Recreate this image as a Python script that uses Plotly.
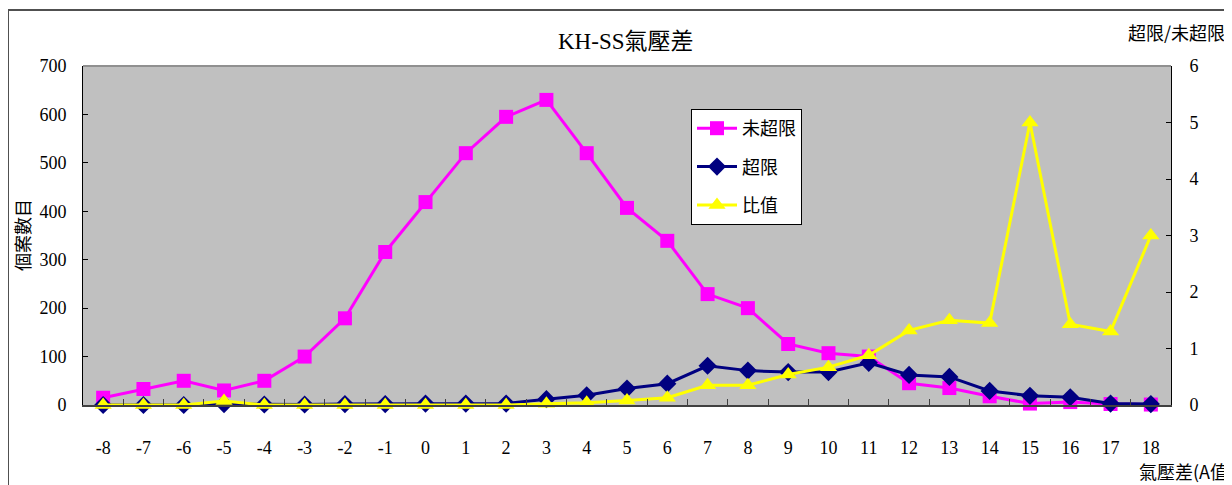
import plotly.graph_objects as go

categories = [str(v) for v in range(-8, 19)]
not_exceed = [15, 33, 50, 30, 50, 100, 179, 316, 419, 520, 595, 630, 520, 407, 339, 229, 200, 126, 107, 100, 45, 35, 18, 3, 6, 2, 1]
exceed = [0, 0, 0, 2, 1, 1, 2, 2, 3, 3, 3, 12, 20, 34, 44, 81, 71, 68, 68, 87, 62, 58, 29, 19, 16, 3, 2]
ratio = [0, 0, 0, 0.07, 0, 0, 0, 0, 0, 0, 0, 0.02, 0.04, 0.08, 0.13, 0.35, 0.35, 0.54, 0.67, 0.88, 1.32, 1.5, 1.45, 5.0, 1.43, 1.3, 3.0]
left_ticks = [0, 100, 200, 300, 400, 500, 600, 700]
right_ticks = [0, 1, 2, 3, 4, 5, 6]

# page body has an 8px margin; work in reference-window pixels and shift
OFF = 8
W, H = 1232 - OFF, 485 - OFF
L, R, T, B = 83, 1171, 66, 405   # plot area in reference pixels

def px(x):
    return (x - L) / (R - L)

def py(y):
    return (B - y) / (B - T)

serif = "Liberation Serif, Noto Sans CJK TC, serif"
cjk = "Noto Sans CJK TC, sans-serif"

fig = go.Figure()
fig.add_trace(go.Scatter(
    x=categories, y=not_exceed, name="未超限", mode="lines+markers",
    line=dict(color="#FF00FF", width=3), marker=dict(symbol="square", size=14, color="#FF00FF"),
    cliponaxis=False, legendgroup="a"))
fig.add_trace(go.Scatter(
    x=categories, y=exceed, name="超限", mode="lines+markers",
    line=dict(color="#000080", width=3), marker=dict(symbol="diamond", size=14, color="#000080"),
    cliponaxis=False, legendgroup="b"))
fig.add_trace(go.Scatter(
    x=categories, y=ratio, name="比值", mode="lines+markers", yaxis="y2",
    line=dict(color="#FFFF00", width=3), marker=dict(symbol="triangle-up", size=15, color="#FFFF00"),
    cliponaxis=False, legendgroup="c"))

fig.update_layout(
    width=W, height=H,
    margin=dict(l=L - OFF, r=1232 - R, t=T - OFF, b=485 - B, pad=0),
    paper_bgcolor="white", plot_bgcolor="#C0C0C0",
    font=dict(family=serif, size=18, color="black"),
    showlegend=True,
    legend=dict(x=px(691), y=py(109), xanchor="left", yanchor="top",
                bgcolor="white", bordercolor="black", borderwidth=1,
                font=dict(family=cjk, size=18), tracegroupgap=12,
                itemwidth=40),
    xaxis=dict(type="category", categoryorder="array", categoryarray=categories,
               range=[-0.5, len(categories) - 0.5], tickson="boundaries",
               ticks="inside", ticklen=6, tickcolor="#404040",
               showline=True, linecolor="#404040", linewidth=2,
               showgrid=False, zeroline=False, ticklabelstandoff=25,
               tickfont=dict(family=serif, size=18)),
    yaxis=dict(range=[0, 700], tickvals=left_ticks, ticks="inside", ticklen=5,
               tickcolor="black", showline=True, linecolor="black", linewidth=1,
               showgrid=False, zeroline=False, ticklabelstandoff=12,
               tickfont=dict(family=serif, size=18)),
    yaxis2=dict(range=[0, 6], tickvals=right_ticks, ticks="inside", ticklen=5,
                tickcolor="black", overlaying="y", side="right",
                showline=True, linecolor="black", linewidth=1,
                showgrid=False, zeroline=False, ticklabelstandoff=14,
                tickfont=dict(family=serif, size=18)),
    shapes=[
        dict(type="rect", xref="paper", yref="paper",
             x0=px(8), x1=px(1245), y0=py(495), y1=py(10),
             line=dict(color="#505050", width=2), fillcolor="rgba(0,0,0,0)", layer="below"),
        dict(type="line", xref="paper", yref="paper", x0=0, x1=1, y0=1, y1=1,
             line=dict(color="#909090", width=2)),
    ],
    annotations=[
        dict(text="KH-SS氣壓差", x=px(625), y=py(42), xref="paper", yref="paper",
             showarrow=False, font=dict(family=serif, size=23), xanchor="center", yanchor="middle"),
        dict(text="超限/未超限", x=px(1176), y=py(32), xref="paper", yref="paper",
             showarrow=False, font=dict(family=cjk, size=18), xanchor="center", yanchor="middle"),
        dict(text="個案數目", x=px(22), y=py(235), xref="paper", yref="paper", textangle=-90,
             showarrow=False, font=dict(family=cjk, size=18), xanchor="center", yanchor="middle"),
        dict(text="氣壓差(A值", x=px(1137), y=py(471), xref="paper", yref="paper",
             showarrow=False, font=dict(family=cjk, size=18), xanchor="left", yanchor="middle"),
    ],
)

fig.write_html("out.html")
